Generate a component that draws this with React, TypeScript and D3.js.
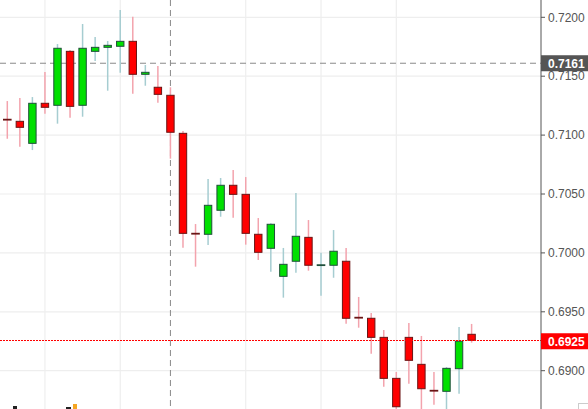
import React, { useEffect } from "react";
import * as d3 from "d3";

const opens = [0.71131, 0.71117, 0.7093, 0.7127, 0.71253, 0.71711, 0.71253, 0.71711, 0.71745, 0.71754, 0.71796, 0.71516, 0.71406, 0.71338, 0.71015, 0.70163, 0.70158, 0.70362, 0.70574, 0.70497, 0.70158, 0.70039, 0.69801, 0.69929, 0.70132, 0.69895, 0.69895, 0.69929, 0.6945, 0.69445, 0.69283, 0.68935, 0.69283, 0.69054, 0.6883, 0.68825, 0.69017, 0.69309];
const closes = [0.7113, 0.71066, 0.7127, 0.71236, 0.71737, 0.71244, 0.71737, 0.71745, 0.71762, 0.71796, 0.71516, 0.71533, 0.71346, 0.71024, 0.70166, 0.70162, 0.70404, 0.70574, 0.70497, 0.70166, 0.70005, 0.70243, 0.69903, 0.70141, 0.69895, 0.69896, 0.70014, 0.69445, 0.69449, 0.69283, 0.68935, 0.68694, 0.69088, 0.68847, 0.68829, 0.6902, 0.6925, 0.69258];
const highs = [0.71289, 0.71315, 0.71323, 0.71536, 0.71773, 0.71722, 0.71943, 0.71833, 0.71799, 0.72062, 0.72005, 0.71595, 0.71587, 0.71406, 0.71035, 0.70245, 0.70627, 0.70636, 0.70704, 0.70644, 0.70296, 0.70251, 0.70042, 0.70508, 0.70279, 0.70002, 0.70194, 0.70042, 0.69626, 0.6949, 0.69345, 0.68989, 0.69405, 0.69295, 0.68989, 0.69031, 0.69371, 0.69397];
const lows = [0.70969, 0.70902, 0.70873, 0.71182, 0.71097, 0.71148, 0.71156, 0.71629, 0.71377, 0.7153, 0.71351, 0.71419, 0.71275, 0.708, 0.70044, 0.69883, 0.70067, 0.70307, 0.70299, 0.7007, 0.6994, 0.6984, 0.6962, 0.69832, 0.69849, 0.69637, 0.69789, 0.69399, 0.69365, 0.69144, 0.68864, 0.686, 0.6889, 0.686, 0.68711, 0.686, 0.68805, 0.69238];
const priceTicks = [0.69, 0.695, 0.7, 0.705, 0.71, 0.715, 0.72];
const gridCandles = [3, 9, 19, 25, 31];
const crosshairPrice = 0.7161;
const crosshairCandle = 13;
const lastPrice = 0.6925;

const W = 588;
const H = 409;
const AX = 541;

export default function App() {
  useEffect(() => {
    document.body.style.margin = "0";
  }, []);
  const x = d3.scaleLinear().domain([0, 37]).range([7.3, 471.6]);
  const y = d3.scaleLinear().domain([0.69, 0.72]).range([370.7, 17.3]);
  const fmt = d3.format(".4f");
  const candles = opens.map((o, i) => ({ i, o, c: closes[i], h: highs[i], l: lows[i] }));
  const lastY = Math.round(y(lastPrice)) - 0.5;
  return (
    <svg width={W} height={H} style={{ display: "block", fontFamily: "'Liberation Sans', Arial, sans-serif" }}>
      <rect x={0} y={0} width={W} height={H} fill="#fff" />
      <g clipPath="url(#plot)">
        <defs>
          <clipPath id="plot">
            <rect x={0} y={0} width={AX} height={H} />
          </clipPath>
        </defs>
        {priceTicks.map((t) => (
          <line key={t} x1={0} x2={AX} y1={y(t)} y2={y(t)} stroke="#eeeeee" strokeWidth={1.2} />
        ))}
        {gridCandles.map((g) => (
          <line key={g} x1={x(g)} x2={x(g)} y1={0} y2={H} stroke="#eeeeee" strokeWidth={1.2} />
        ))}
        <line x1={0} x2={AX} y1={y(crosshairPrice)} y2={y(crosshairPrice)} stroke="#8a8a8a" strokeDasharray="6,4" strokeWidth={1} />
        <line x1={x(crosshairCandle)} x2={x(crosshairCandle)} y1={0} y2={H} stroke="#8a8a8a" strokeDasharray="6,4" strokeWidth={1} />
        {candles.map((d) => {
          const up = d.c >= d.o;
          const cx = x(d.i);
          const top = y(Math.max(d.o, d.c));
          const bot = y(Math.min(d.o, d.c));
          const doji = bot - top < 1.5;
          const wick = up ? "#a6cdd1" : "#f3a3ad";
          const outline = up ? "#1f4f3a" : "#6a1515";
          return (
            <g key={d.i}>
              <line x1={cx} x2={cx} y1={y(d.h)} y2={y(d.l)} stroke={wick} strokeWidth={1.5} />
              {doji ? (
                <line x1={cx - 4.3} x2={cx + 4.3} y1={top} y2={top} stroke={outline} strokeWidth={1.8} />
              ) : (
                <rect x={cx - 3.7} y={top} width={7.4} height={bot - top} fill={up ? "#00e000" : "#ff0000"} stroke={outline} strokeWidth={1} />
              )}
            </g>
          );
        })}
        <line x1={0} x2={AX} y1={lastY} y2={lastY} stroke="#ff0000" strokeDasharray="2,1" strokeWidth={1} shapeRendering="crispEdges" />
      </g>
      <line x1={AX} x2={AX} y1={0} y2={H} stroke="#555" strokeWidth={1} />
      {priceTicks.map((t) => (
        <g key={t}>
          <line x1={AX} x2={AX + 4} y1={y(t)} y2={y(t)} stroke="#555" />
          <text x={548} y={y(t)} dy="0.35em" fontSize={12} fill="#555">{fmt(t)}</text>
        </g>
      ))}
      <rect x={AX} y={y(crosshairPrice) - 8} width={W - AX} height={16} fill="#555" />
      <text x={548} y={y(crosshairPrice)} dy="0.36em" fontSize={12} fontWeight="bold" fill="#fff">{fmt(crosshairPrice)}</text>
      <rect x={AX} y={y(lastPrice) - 8} width={W - AX} height={16} fill="#ff0000" />
      <text x={548} y={y(lastPrice)} dy="0.36em" fontSize={12} fontWeight="bold" fill="#fff">{fmt(lastPrice)}</text>
      <rect x={578.5} y={403.5} width={12} height={10} fill="#fff" stroke="#ccc" />
      <rect x={13} y={406} width={4} height={3} fill="#222" />
      <rect x={66} y={407} width={5} height={2} fill="#222" />
      <rect x={73} y={404} width={4} height={5} fill="#f5a623" />
    </svg>
  );
}
